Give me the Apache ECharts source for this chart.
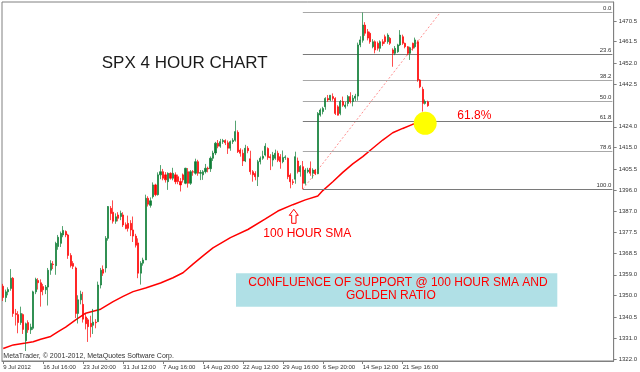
<!DOCTYPE html>
<html><head><meta charset="utf-8">
<script src="https://cdn.jsdelivr.net/npm/echarts@6/dist/echarts.min.js"></script>
<style>html,body{margin:0;padding:0;background:#fff}#c{width:640px;height:372px}</style>
</head><body><div id="c"></div>
<script>
// ---- data (4-hour bars, 9 Jul 2012 .. 26 Sep 2012) ----
const opens = [1354.0,1349.0,1351.5,1353.0,1357.5,1342.0,1341.5,1338.0,1341.5,1330.0,1338.0,1334.8,1335.5,1351.5,1356.5,1355.5,1353.8,1352.4,1353.6,1361.0,1363.7,1363.0,1371.4,1372.8,1376.5,1378.0,1376.5,1367.5,1364.0,1362.0,1342.0,1348.0,1346.0,1340.5,1339.2,1337.7,1336.8,1338.2,1338.4,1354.5,1361.4,1362.0,1375.0,1388.2,1386.5,1382.5,1385.3,1384.6,1385.3,1381.0,1381.6,1381.6,1378.7,1376.0,1373.0,1359.7,1364.1,1365.5,1392.6,1389.5,1393.3,1398.5,1394.2,1402.9,1404.3,1402.9,1399.9,1403.6,1401.4,1402.9,1402.1,1400.0,1402.9,1399.2,1404.3,1399.2,1404.3,1403.6,1408.7,1403.6,1402.9,1404.3,1405.8,1405.6,1410.2,1412.5,1416.8,1415.5,1417.5,1418.0,1417.0,1414.6,1417.5,1418.1,1421.6,1413.8,1412.4,1409.0,1414.6,1410.0,1404.3,1403.5,1402.1,1408.7,1410.2,1411.6,1414.5,1410.9,1409.4,1410.2,1412.4,1410.9,1408.7,1410.5,1410.2,1402.8,1399.9,1401.0,1409.0,1404.3,1406.5,1399.2,1404.3,1405.8,1403.6,1405.0,1403.4,1429.2,1430.7,1432.8,1436.5,1435.8,1437.3,1436.5,1432.8,1429.9,1435.1,1432.8,1434.3,1437.3,1435.1,1436.6,1437.5,1460.0,1462.0,1468.7,1465.8,1465.1,1459.2,1461.4,1460.7,1458.5,1461.4,1463.6,1461.4,1462.9,1457.8,1456.3,1457.0,1460.0,1463.6,1460.7,1459.2,1456.3,1460.7,1459.2,1461.4,1444.6,1440.5,1434.3,1435.0];
const closes = [1349.0,1351.5,1352.5,1357.5,1342.0,1341.5,1338.0,1342.0,1335.0,1337.5,1334.8,1336.0,1351.5,1357.0,1355.5,1351.6,1352.4,1353.6,1361.0,1364.0,1363.5,1372.8,1375.5,1377.2,1378.5,1376.5,1367.5,1363.0,1362.7,1342.0,1348.0,1350.5,1339.5,1337.5,1336.2,1336.2,1338.2,1337.9,1354.5,1361.0,1359.7,1375.0,1389.0,1385.9,1382.5,1384.5,1383.8,1386.0,1380.9,1379.3,1379.4,1378.7,1376.0,1372.0,1359.7,1364.1,1365.5,1392.6,1390.0,1391.5,1398.5,1394.2,1402.9,1404.3,1401.4,1400.7,1403.6,1401.4,1403.6,1399.9,1400.0,1398.5,1400.7,1405.8,1399.2,1404.3,1404.1,1408.7,1403.6,1403.9,1404.3,1405.8,1405.5,1410.2,1412.5,1416.8,1415.5,1417.5,1418.0,1417.0,1414.6,1417.5,1418.1,1421.9,1413.1,1412.4,1409.0,1414.6,1413.5,1404.3,1402.9,1402.1,1408.7,1410.2,1411.1,1415.5,1410.5,1410.4,1411.6,1412.4,1409.3,1408.7,1410.5,1410.8,1402.1,1399.9,1399.5,1410.9,1404.3,1406.6,1399.2,1405.0,1405.0,1403.6,1405.0,1403.4,1429.9,1431.4,1432.1,1436.5,1435.8,1437.9,1436.5,1429.9,1429.1,1435.1,1433.5,1433.6,1437.3,1435.1,1436.6,1437.5,1460.0,1462.2,1468.7,1465.1,1463.0,1461.4,1461.4,1457.8,1458.5,1461.4,1460.5,1461.4,1464.3,1460.7,1456.3,1458.5,1460.0,1464.3,1460.7,1459.2,1456.3,1458.8,1458.5,1462.2,1444.6,1441.6,1434.3,1435.1,1433.3];
const lows = [1347.5,1347.0,1350.0,1352.0,1340.5,1336.7,1333.3,1337.0,1333.0,1325.5,1333.5,1333.0,1334.8,1350.5,1352.5,1345.0,1350.0,1350.5,1345.5,1359.0,1361.5,1359.0,1370.0,1371.2,1375.5,1375.5,1366.0,1362.2,1361.5,1340.0,1337.6,1346.0,1338.0,1335.0,1329.5,1331.5,1333.0,1335.5,1338.2,1353.0,1358.5,1360.0,1374.0,1383.0,1381.5,1381.4,1382.5,1383.0,1380.0,1379.0,1378.0,1376.0,1373.4,1371.0,1357.5,1354.7,1363.0,1365.5,1389.0,1388.5,1392.5,1393.5,1393.8,1401.0,1400.5,1399.5,1396.3,1400.8,1400.5,1398.8,1398.8,1395.6,1399.5,1398.8,1397.3,1398.5,1402.5,1403.0,1402.5,1400.6,1400.7,1403.5,1404.0,1404.2,1409.0,1411.6,1414.6,1414.8,1416.5,1416.0,1412.1,1413.5,1416.5,1417.5,1412.5,1410.9,1406.8,1408.5,1412.4,1403.0,1399.9,1400.5,1398.0,1407.5,1409.5,1411.0,1409.5,1405.0,1406.6,1409.5,1408.5,1405.6,1408.0,1409.5,1401.0,1397.0,1398.5,1399.0,1403.5,1402.1,1396.6,1398.5,1403.6,1402.5,1401.3,1402.8,1403.2,1428.5,1429.5,1431.5,1435.0,1435.3,1435.5,1429.2,1429.0,1429.1,1432.8,1432.0,1433.0,1434.3,1433.0,1435.3,1435.5,1459.0,1461.0,1464.0,1462.0,1460.5,1458.5,1456.3,1457.5,1457.0,1459.5,1460.5,1460.5,1460.0,1450.4,1455.5,1456.5,1459.5,1460.0,1458.5,1455.5,1453.4,1457.5,1458.5,1443.8,1441.0,1430.7,1433.8,1432.8];
const highs = [1355.0,1352.5,1353.5,1361.5,1358.0,1344.0,1343.0,1345.0,1342.0,1338.0,1339.0,1337.5,1352.0,1357.7,1357.5,1357.0,1355.0,1354.5,1362.0,1365.4,1365.0,1373.5,1376.5,1378.0,1380.4,1378.5,1377.0,1368.5,1365.0,1362.6,1350.0,1352.0,1351.5,1342.0,1340.0,1341.0,1344.0,1339.5,1356.0,1362.0,1363.1,1376.0,1389.2,1389.2,1391.7,1386.0,1386.5,1387.2,1386.5,1382.0,1385.0,1383.0,1384.6,1377.0,1375.0,1365.0,1366.5,1394.2,1393.5,1393.0,1399.6,1399.0,1404.0,1407.2,1405.5,1404.1,1404.0,1404.0,1406.0,1404.0,1403.0,1401.5,1403.5,1406.0,1405.9,1405.0,1405.0,1410.0,1409.5,1405.0,1405.0,1407.7,1406.5,1411.0,1413.5,1417.4,1418.2,1418.7,1418.7,1418.5,1418.0,1418.0,1419.0,1426.7,1422.5,1414.6,1414.0,1416.1,1415.5,1413.5,1405.0,1404.5,1409.5,1411.0,1413.5,1416.8,1415.0,1412.0,1413.0,1414.0,1413.5,1412.0,1413.6,1411.5,1410.5,1403.6,1401.0,1413.1,1410.5,1407.2,1409.0,1405.8,1406.0,1408.8,1405.8,1405.5,1430.5,1432.1,1432.8,1437.0,1438.0,1437.9,1438.7,1437.0,1433.5,1435.8,1437.3,1435.0,1438.0,1439.2,1438.0,1438.5,1461.0,1463.8,1474.2,1470.0,1467.0,1465.8,1462.5,1462.0,1461.5,1462.0,1462.5,1464.5,1465.1,1463.5,1458.5,1459.5,1460.5,1466.5,1464.5,1461.0,1459.5,1459.2,1461.0,1463.2,1462.0,1445.0,1441.6,1436.0,1435.5];

// 100-period SMA, read at these bars
const smaBars   = [0,4,9,12,15,19,22,25,29,33,39,44,48,52,57,63,68,72,76,80,84,91,98,105,110,116,121,126,128,132,136,140,144,148,152,156,160,164,168,170];
const smaValues = [1326.6,1328.2,1329.0,1329.6,1330.7,1331.9,1334.0,1336.0,1339.2,1342.1,1343.9,1347.2,1349.5,1351.6,1353.2,1355.4,1357.7,1359.9,1363.7,1367.3,1370.8,1375.3,1378.9,1383.6,1387.0,1389.8,1391.9,1393.6,1396.0,1399.9,1404.0,1407.7,1410.9,1414.6,1418.2,1421.4,1423.3,1425.1,1426.3,1426.7];

// Fibonacci retracement
const fibLevels = [0, 23.6, 38.2, 50, 61.8, 78.6, 100];
const fibHigh = 1474.2, fibLow = 1396.6;
const fibStartBar = 120, fibEndBar = 175;
const lastPrice = 1433.3;

// axes
const xTickLabels = ['9 Jul 2012','16 Jul 16:00','23 Jul 20:00','31 Jul 12:00','7 Aug 16:00','14 Aug 20:00','22 Aug 12:00','29 Aug 16:00','6 Sep 20:00','14 Sep 12:00','21 Sep 16:00'];
const BARS_PER_LABEL = 16;
const TOTAL_SLOTS = 245;
const yTickLabels = ['1322.0','1331.0','1340.5','1350.0','1359.0','1368.5','1377.5','1387.0','1396.0','1405.5','1415.0','1424.0','1442.5','1452.0','1461.5','1470.5'];
const yMin = 1321.12, yMax = 1478.85;

// ---- build ----
const FONT = '"Liberation Sans", Arial, sans-serif';
const categories = Array.from({length: TOTAL_SLOTS}, (_, i) => i);
const candleData = opens.map((o, i) => [o, closes[i], lows[i], highs[i]]);
const smaData = smaBars.map((b, i) => [b, smaValues[i]]);
const yTickValues = yTickLabels.map(Number);
const fibPrice = l => fibHigh - (fibHigh - fibLow) * l / 100;
const fibColors = {0:'#a8a8a8', 23.6:'#7a7a7a', 38.2:'#a8a8a8', 50:'#a8a8a8', 61.8:'#7a7a7a', 78.6:'#a8a8a8', 100:'#7a7a7a'};
const showLabel = idx => idx % BARS_PER_LABEL === 0 && idx / BARS_PER_LABEL < xTickLabels.length;
const lastBar = opens.length - 1;

const chart = echarts.init(document.getElementById('c'), null, {renderer: 'canvas'});
chart.setOption({
  animation: false,
  backgroundColor: '#ffffff',
  grid: {left: 2, top: 2, right: 23, bottom: 11, show: true, borderColor: '#808080', borderWidth: 1},
  xAxis: {
    type: 'category', data: categories, boundaryGap: true,
    axisLine: {show: true, lineStyle: {color: '#808080'}},
    axisTick: {show: true, alignWithLabel: true, interval: showLabel, length: 3, lineStyle: {color: '#808080'}},
    axisLabel: {interval: showLabel, formatter: (v, idx) => xTickLabels[idx / BARS_PER_LABEL] || '',
      align: 'left', fontSize: 6, color: '#333', margin: 3, fontFamily: FONT},
    splitLine: {show: false}
  },
  yAxis: {
    type: 'value', position: 'right', min: yMin, max: yMax,
    axisLine: {show: true, lineStyle: {color: '#808080'}},
    axisTick: {show: true, customValues: yTickValues, length: 3, lineStyle: {color: '#808080'}},
    axisLabel: {customValues: yTickValues, formatter: v => v.toFixed(1), fontSize: 6, color: '#333', margin: 5, fontFamily: FONT},
    splitLine: {show: false}
  },
  series: [
    { // yellow highlight circle (behind)
      type: 'line', data: [], z: 1, silent: true,
      markPoint: {symbol: 'circle', symbolSize: 23, silent: true, label: {show: false},
        itemStyle: {color: '#ffff00'}, data: [{coord: [lastBar - 1, fibPrice(61.8) - 0.7]}]}
    },
    { // fibonacci levels + last price tag
      type: 'line', data: [], z: 3, silent: true,
      markLine: {
        symbol: ['none', 'none'], silent: true, animation: false,
        label: {position: 'insideEndTop', fontSize: 6, color: '#333', distance: 1, fontFamily: FONT},
        lineStyle: {type: 'solid', width: 1},
        data: fibLevels.map(l => [
          {coord: [fibStartBar, fibPrice(l)], lineStyle: {color: fibColors[l], type: 'solid', width: 1},
           label: {formatter: l.toFixed(1)}},
          {coord: [TOTAL_SLOTS - 1, fibPrice(l)]}
        ]).concat([
          {yAxis: lastPrice, lineStyle: {opacity: 0},
           label: {position: 'end', formatter: lastPrice.toFixed(1), backgroundColor: '#000', color: '#fff',
             padding: [1, 1, 0, 1], fontSize: 6, distance: 1, fontFamily: FONT}}
        ])
      }
    },
    { // fib trend (dotted)
      type: 'line', data: [[fibStartBar, fibLow], [fibEndBar, fibHigh]], z: 3, silent: true,
      symbol: 'none', lineStyle: {color: '#ff9090', type: [2, 2], width: 1}
    },
    { // 100 SMA
      type: 'line', data: smaData, z: 4, silent: true, symbol: 'none', smooth: false,
      lineStyle: {color: '#ff0000', width: 1.5}
    },
    {
      type: 'candlestick', data: candleData, z: 5, barWidth: 1.6,
      itemStyle: {color: '#0d7d35', color0: '#ff0000', borderColor: '#0d7d35', borderColor0: '#ff0000', borderWidth: 0.7}
    }
  ],
  graphic: [
    {type: 'text', x: 184.7, y: 63, z: 10, style: {text: 'SPX 4 HOUR CHART', fill: '#1a1a1a', font: '17px ' + FONT, align: 'center', verticalAlign: 'middle'}},
    {type: 'text', x: 457.3, y: 115.2, z: 10, style: {text: '61.8%', fill: '#ff0000', font: '12px ' + FONT, align: 'left', verticalAlign: 'middle'}},
    {type: 'polygon', z: 10, shape: {points: [[293.8,209.3],[298.3,215.3],[296,215.3],[296,223.3],[291.7,223.3],[291.7,215.3],[289.3,215.3]]},
      style: {fill: '#ffffff', stroke: '#ff0000', lineWidth: 1}},
    {type: 'text', x: 263.3, y: 234, z: 10, style: {text: '100 HOUR SMA', fill: '#ff0000', font: '12px ' + FONT, align: 'left', verticalAlign: 'middle'}},
    {type: 'rect', z: 9, shape: {x: 236, y: 273.3, width: 321.3, height: 33.4}, style: {fill: '#b0e0e6'}},
    {type: 'text', x: 248.3, y: 282.7, z: 10, style: {text: 'CONFLUENCE OF SUPPORT @ 100 HOUR SMA AND', fill: '#ff0000', font: '12px ' + FONT, align: 'left', verticalAlign: 'middle'}},
    {type: 'text', x: 346, y: 296, z: 10, style: {text: 'GOLDEN RATIO', fill: '#ff0000', font: '12px ' + FONT, align: 'left', verticalAlign: 'middle'}},
    {type: 'text', x: 3.3, y: 356.5, z: 10, style: {text: 'MetaTrader, \u00a9 2001-2012, MetaQuotes Software Corp.', fill: '#333', font: '7px ' + FONT, align: 'left', verticalAlign: 'middle'}}
  ]
});
</script>
</body></html>
